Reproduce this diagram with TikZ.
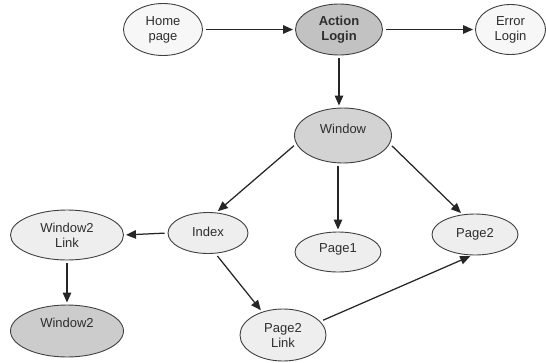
\documentclass[tikz,border=0pt]{standalone}
\usepackage{fontspec}
\setmainfont{Liberation Sans}
\usetikzlibrary{arrows.meta,shapes.geometric}
\definecolor{bord}{HTML}{404040}
\definecolor{txt}{HTML}{2E2E2E}
\definecolor{fwhite}{HTML}{F7F7F7}
\definecolor{flight}{HTML}{EEEEEE}
\definecolor{fmid}{HTML}{D3D3D3}
\definecolor{fdark}{HTML}{C2C2C2}
\definecolor{fdarkb}{HTML}{CCCCCC}
\tikzset{
  st/.style={ellipse, draw=bord, line width=0.9pt, inner sep=0pt, align=center,
    text=txt, font=\fontsize{13}{15}\selectfont},
  arr/.style={-{Triangle[length=10pt,width=8.5pt]}, line width=1.25pt, color=black!85,
    shorten >=2pt, shorten <=3pt}
}
\begin{document}
\begin{tikzpicture}[x=1pt,y=-1pt]
\useasboundingbox (0,0) rectangle (546,362);
\node[st, fill=fwhite, minimum width=79pt, minimum height=52pt] (home) at (163,29.5) {Home\\page};
\node[st, fill=fdark, minimum width=87pt, minimum height=51pt, font=\fontsize{13}{15}\selectfont\bfseries] (act) at (339,29.5) {Action\\Login};
\node[st, fill=fwhite, minimum width=70pt, minimum height=50pt] (err) at (510.5,29.5) {Error\\Login};
\node[st, fill=fmid, minimum width=97pt, minimum height=55pt, text depth=14pt] (win) at (343,135.5) {Window};
\node[st, fill=flight, minimum width=80pt, minimum height=41pt, text depth=2pt] (idx) at (208,233) {Index};
\node[st, fill=flight, minimum width=86pt, minimum height=40pt, text depth=8pt] (p1) at (338,252) {Page1};
\node[st, fill=flight, minimum width=86pt, minimum height=41pt, text depth=4pt] (p2) at (475,234.5) {Page2};
\node[st, fill=flight, minimum width=113pt, minimum height=50pt] (w2l) at (67,235) {Window2\\Link};
\node[st, fill=fdarkb, minimum width=113pt, minimum height=52pt, text depth=16pt] (w2) at (67,331) {Window2};
\node[st, fill=flight, minimum width=86pt, minimum height=52pt] (p2l) at (283,335) {Page2\\Link};
\draw[arr] (home.east) -- (act.west);
\draw[arr] (act.east) -- (err.west);
\draw[arr] (act.south) -- (act.south |- win.north);
\draw[arr] (win.190) -- (idx.68);
\draw[arr] (win.350) -- (p2.122);
\draw[arr] (p1.north |- win.south) -- (p1.north);
\draw[arr] (idx.west) -- (w2l.east);
\draw[arr] (w2l.south) -- (w2.north);
\draw[arr] (idx.290) -- (p2l.132);
\draw[arr] (p2l.20) -- (p2.262);
\end{tikzpicture}
\end{document}
